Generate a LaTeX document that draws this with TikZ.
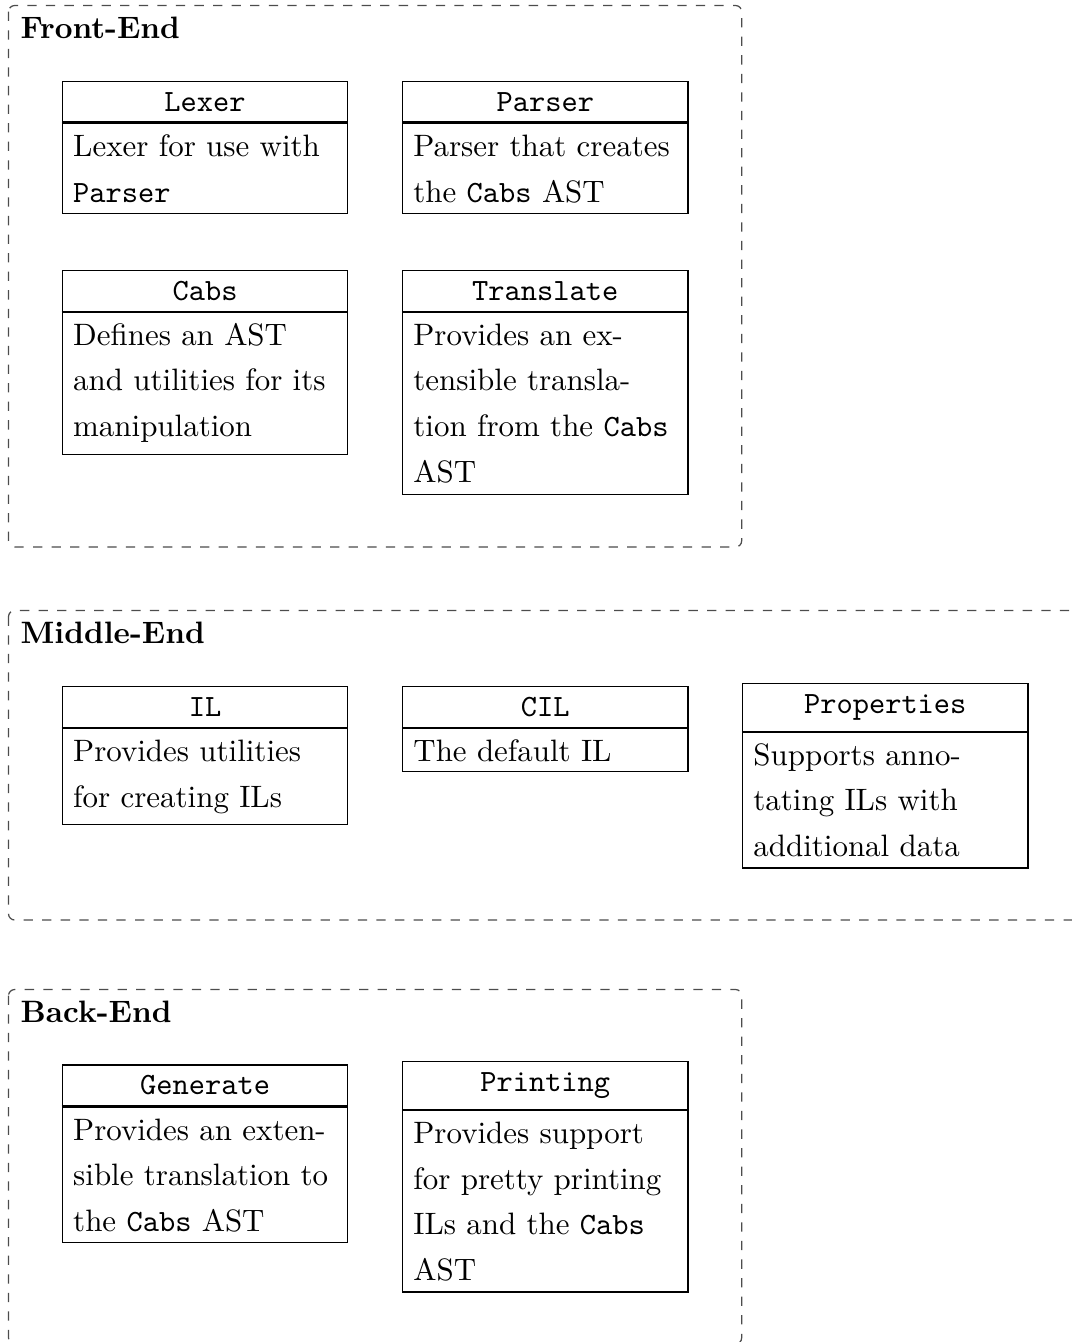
\documentclass[tikz,border=0pt]{standalone}
\newcommand\pxs{0.3231pt}
\tikzset{
  grp/.style={draw=black!70, dashed, rounded corners=2pt, line width=0.4pt},
  grptitle/.style={font=\bfseries, anchor=base west, inner sep=0pt},
  hdr/.style={draw, minimum width=285.5*\pxs, inner sep=0pt, font=\ttfamily},
  bdy/.style={draw, minimum width=285.5*\pxs, inner sep=0pt, anchor=north},
  txt/.style={anchor=base west, inner sep=0pt},
  divl/.style={line width=0.7pt},
}
\newcommand\umlbox[6]{%
  \node[hdr, minimum height=#4*\pxs] (#1H) at (#2,#3) {#5};
  \node[bdy, minimum height=#6*\pxs] (#1B) at (#1H.south) {};
  \draw[divl] (#1H.south west) -- (#1H.south east);
}
\begin{document}
\begin{tikzpicture}[x=0.3231pt,y=-0.3231pt]
\useasboundingbox (0,0) rectangle (1072,1342);
\clip (0,0) rectangle (1072,1342);

% ---------- groups ----------
\draw[grp] (8.5,5.5) rectangle (741.7,547);
\node[grptitle] (fe) at (20,38.5) {Front-End};
\draw[grp] (8.5,610.5) rectangle (1100,920);
\node[grptitle] (me) at (20,643.5) {Middle-End};
\draw[grp] (8.5,989.5) rectangle (741.7,1344);
\node[grptitle] (be) at (20,1022) {Back-End};

% ---------- Front-End ----------
\umlbox{lex}{205.05}{101.85}{40.5}{Lexer}{90.3}
\node[txt] (lex1) at (72.6,156.5) {Lexer for use with};
\node[txt] (lex2) at (72.6,202) {\texttt{Parser}};

\umlbox{par}{545.25}{101.85}{40.5}{Parser}{90.3}
\node[txt] (par1) at (412.8,156.5) {Parser that creates};
\node[txt] (par2) at (412.8,202) {the \texttt{Cabs} AST};

\umlbox{cab}{205.05}{291}{40.5}{Cabs}{142.2}
\node[txt] (cab1) at (72.6,345.3) {Defines an AST};
\node[txt] (cab2) at (72.6,390.9) {and utilities for its};
\node[txt] (cab3) at (72.6,436.5) {manipulation};

\umlbox{tra}{545.25}{291}{40.5}{Translate}{181.7}
\node[txt] (tra1) at (412.8,345.3) {Provides an ex-};
\node[txt] (tra2) at (412.8,390.9) {tensible transla-};
\node[txt] (tra3) at (412.8,436.5) {tion from the \texttt{Cabs}};
\node[txt] (tra4) at (412.8,482.1) {AST};

% ---------- Middle-End ----------
\umlbox{il}{205.05}{707.2}{40.8}{IL}{95.6}
\node[txt] (il1) at (72.6,761.7) {Provides utilities};
\node[txt] (il2) at (72.6,807.3) {for creating ILs};

\umlbox{cil}{545.25}{707.2}{40.8}{CIL}{43}
\node[txt] (cil1) at (412.8,761.5) {The default IL};

\umlbox{pro}{885.25}{707.2}{48}{Properties}{135.5}
\node[txt] (pro1) at (752.8,765.2) {Supports anno-};
\node[txt] (pro2) at (752.8,810.8) {tating ILs with};
\node[txt] (pro3) at (752.8,856.4) {additional data};

% ---------- Back-End ----------
\umlbox{gen}{205.05}{1085.5}{40.8}{Generate}{135.7}
\node[txt] (gen1) at (72.6,1140) {Provides an exten-};
\node[txt] (gen2) at (72.6,1185.6) {sible translation to};
\node[txt] (gen3) at (72.6,1231.2) {the \texttt{Cabs} AST};

\umlbox{pri}{545.25}{1085.5}{48}{Printing}{181.2}
\node[txt] (pri1) at (412.8,1143.5) {Provides support};
\node[txt] (pri2) at (412.8,1189.1) {for pretty printing};
\node[txt] (pri3) at (412.8,1234.7) {ILs and the \texttt{Cabs}};
\node[txt] (pri4) at (412.8,1280.3) {AST};
\end{tikzpicture}
\end{document}
